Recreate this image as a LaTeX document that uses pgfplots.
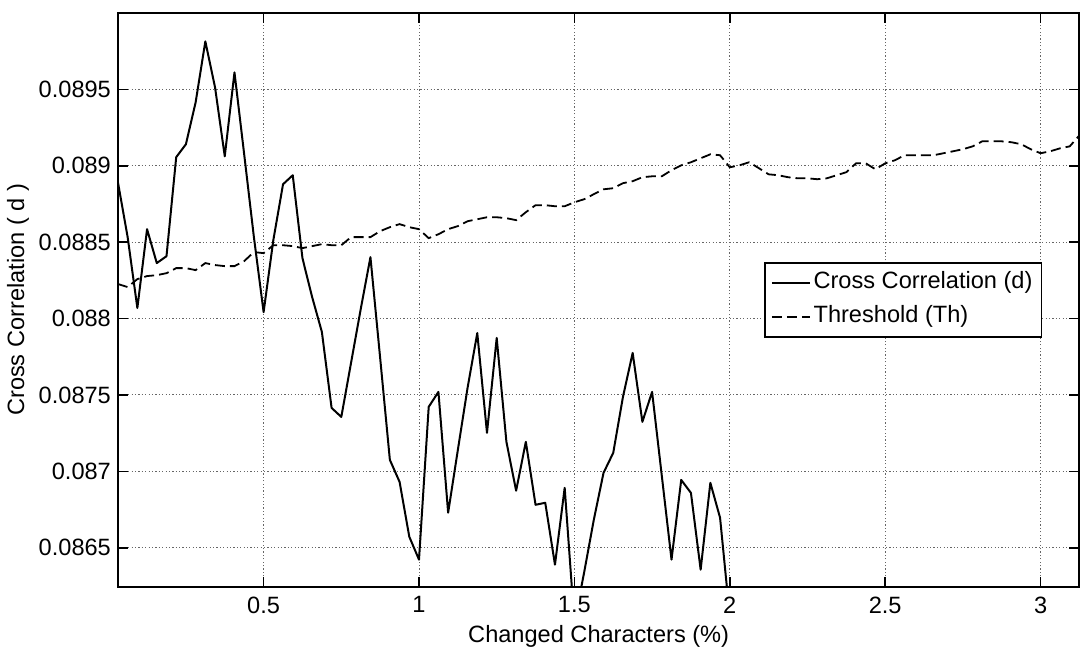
\documentclass[border=0pt]{standalone}
\usepackage{fontspec}
\setmainfont{Liberation Sans}
\usepackage{pgfplots}
\pgfplotsset{compat=1.18}
\begin{document}
\begin{tikzpicture}
\begin{axis}[
  scale only axis, width=481pt, height=287pt,
  xmin=0.03125, xmax=3.125, ymin=0.086245, ymax=0.0900,
  xtick={0.5,1,1.5,2,2.5,3}, xticklabels={0.5,1,1.5,2,2.5,3},
  ytick={0.0865,0.087,0.0875,0.088,0.0885,0.089,0.0895},
  yticklabels={0.0865,0.087,0.0875,0.088,0.0885,0.089,0.0895},
  scaled y ticks=false,
  tick align=inside, major tick length=5pt,
  tick style={black, line width=0.8pt},
  axis line style={line width=1pt},
  grid=major,
  major grid style={black!60, line width=0.5pt, dash pattern=on 0.6pt off 1.1pt},
  tick label style={font=\fontsize{11.8}{14}\selectfont},
  label style={font=\fontsize{11.8}{14}\selectfont},
  xlabel={Changed Characters (\%)},
  ylabel={Cross Correlation ( d )},
  xlabel style={at={(axis description cs:0.5,0)}, anchor=center, yshift=-25pt},
  ylabel style={at={(axis description cs:-0.104,0.5)}, anchor=center},
  xticklabel style={yshift=-1.5pt},
  legend style={at={(0.9615,0.566)}, anchor=north east, draw=black, line width=0.9pt,
    font=\fontsize{11.8}{14}\selectfont, inner xsep=3pt, inner ysep=2.5pt,
    nodes={inner sep=1.5pt, text height=9pt, text depth=3pt}, row sep=2pt},
  legend cell align=left,
  legend image code/.code={\draw[#1, line width=0.8pt] (0pt,0pt) -- (19pt,0pt);},
]
\addplot[black, line width=1pt, line join=round] coordinates {
(0.03125,0.088892) (0.0625,0.088533) (0.09375,0.088069) (0.125,0.088585)
(0.15625,0.088363) (0.1875,0.088408) (0.21875,0.089056) (0.25,0.089141)
(0.28125,0.089415) (0.3125,0.089814) (0.34375,0.089513) (0.375,0.089062)
(0.40625,0.089611) (0.4375,0.089075) (0.46875,0.088533) (0.5,0.088042)
(0.53125,0.088513) (0.5625,0.088879) (0.59375,0.088938) (0.625,0.088395)
(0.65625,0.08814) (0.6875,0.087912) (0.71875,0.087415) (0.75,0.087356)
(0.78125,0.087709) (0.8125,0.088062) (0.84375,0.088402) (0.875,0.087742)
(0.90625,0.087075) (0.9375,0.086931) (0.96875,0.086572) (1,0.086422)
(1.03125,0.087422) (1.0625,0.08752) (1.09375,0.086729) (1.125,0.08714)
(1.15625,0.087546) (1.1875,0.087905) (1.21875,0.087252) (1.25,0.087873)
(1.28125,0.087193) (1.3125,0.086873) (1.34375,0.087193) (1.375,0.086781)
(1.40625,0.086794) (1.4375,0.086389) (1.46875,0.086892) (1.5,0.08601)
(1.53125,0.086337) (1.5625,0.086683) (1.59375,0.08699) (1.625,0.087121)
(1.65625,0.087487) (1.6875,0.087775) (1.71875,0.087324) (1.75,0.08752)
(1.78125,0.086971) (1.8125,0.086422) (1.84375,0.086944) (1.875,0.086859)
(1.90625,0.086356) (1.9375,0.086925) (1.96875,0.086696) (2,0.086049)
};
\addlegendentry{Cross Correlation (d)}
\addplot[black, line width=0.9pt, dash pattern=on 5pt off 2.5pt] coordinates {
(0.03125,0.088226) (0.0625,0.088206) (0.09375,0.088258) (0.125,0.088278)
(0.15625,0.088284) (0.1875,0.088297) (0.21875,0.08833) (0.25,0.08833)
(0.28125,0.088317) (0.3125,0.088363) (0.34375,0.08835) (0.375,0.088343)
(0.40625,0.088343) (0.4375,0.088376) (0.46875,0.088435) (0.5,0.088428)
(0.53125,0.08848) (0.5625,0.08848) (0.59375,0.088474) (0.625,0.088461)
(0.65625,0.088474) (0.6875,0.088487) (0.71875,0.08848) (0.75,0.08848)
(0.78125,0.088533) (0.8125,0.088533) (0.84375,0.088533) (0.875,0.088572)
(0.90625,0.088598) (0.9375,0.088618) (0.96875,0.088598) (1,0.088585)
(1.03125,0.088526) (1.0625,0.088552) (1.09375,0.088585) (1.125,0.088605)
(1.15625,0.088637) (1.1875,0.08865) (1.21875,0.088663) (1.25,0.088663)
(1.28125,0.088657) (1.3125,0.088644) (1.34375,0.088696) (1.375,0.088742)
(1.40625,0.088742) (1.4375,0.088735) (1.46875,0.088735) (1.5,0.088761)
(1.53125,0.088781) (1.5625,0.088814) (1.59375,0.088846) (1.625,0.088853)
(1.65625,0.088886) (1.6875,0.088899) (1.71875,0.088925) (1.75,0.088931)
(1.78125,0.088931) (1.8125,0.088971) (1.84375,0.089003) (1.875,0.089023)
(1.90625,0.089049) (1.9375,0.089075) (1.96875,0.089069) (2,0.08899)
(2.03125,0.089003) (2.0625,0.089023) (2.09375,0.088984) (2.125,0.088944)
(2.15625,0.088938) (2.1875,0.088925) (2.21875,0.088918) (2.25,0.088918)
(2.28125,0.088912) (2.3125,0.088918) (2.34375,0.088938) (2.375,0.088958)
(2.40625,0.089016) (2.4375,0.089016) (2.46875,0.088977) (2.5,0.089016)
(2.53125,0.089036) (2.5625,0.089069) (2.59375,0.089069) (2.625,0.089069)
(2.65625,0.089069) (2.6875,0.089082) (2.71875,0.089095) (2.75,0.089108)
(2.78125,0.089127) (2.8125,0.08916) (2.84375,0.08916) (2.875,0.08916)
(2.90625,0.089154) (2.9375,0.089141) (2.96875,0.089108) (3,0.089082)
(3.03125,0.089095) (3.0625,0.089114) (3.09375,0.089127) (3.125,0.089199)
};
\addlegendentry{Threshold (Th)}
\end{axis}
\pgfresetboundingbox
\path[use as bounding box] ([xshift=-59pt,yshift=-33pt]current axis.south west) rectangle ([xshift=0.3pt,yshift=6.5pt]current axis.north east);
\end{tikzpicture}
\end{document}
